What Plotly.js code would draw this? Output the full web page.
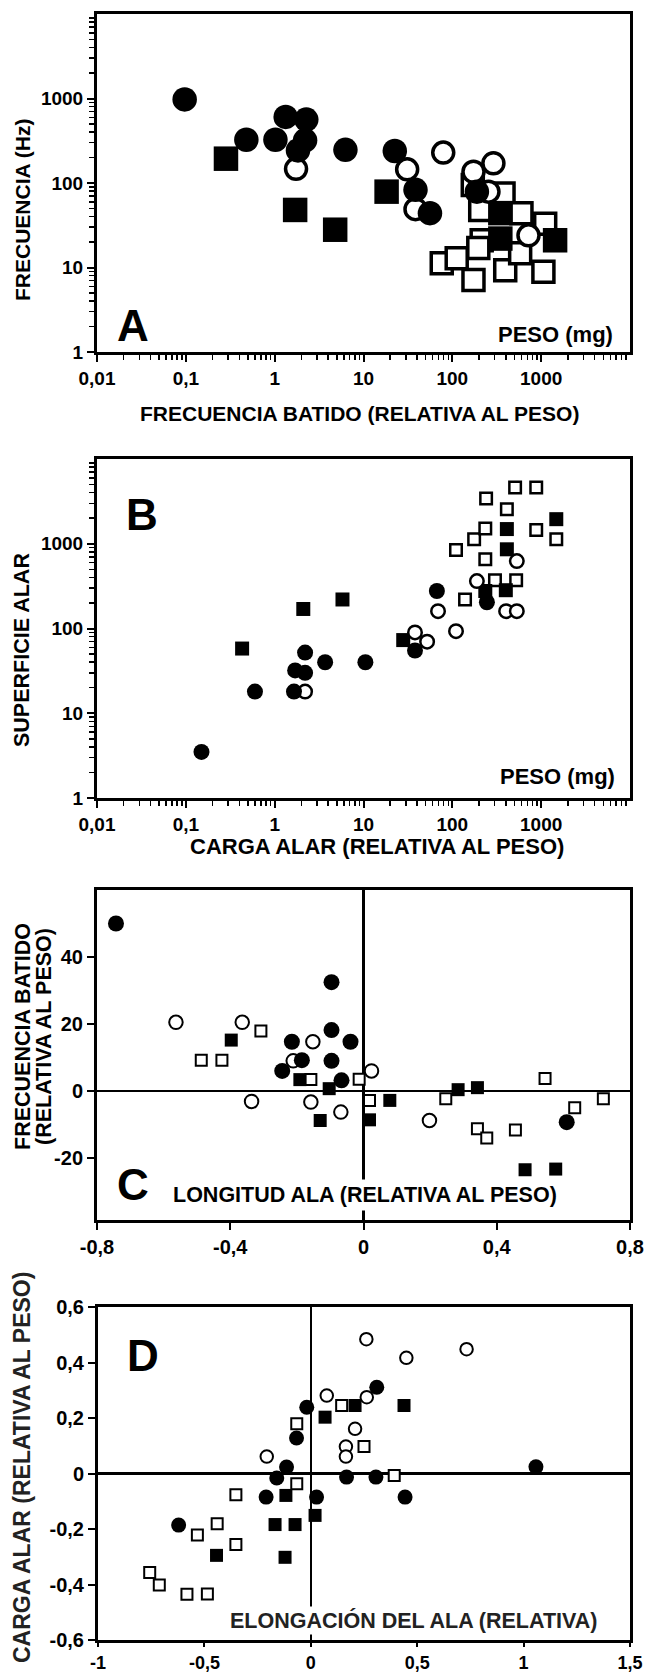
<!DOCTYPE html>
<html><head><meta charset="utf-8">
<script src="https://cdn.plot.ly/plotly-3.0.1.min.js"></script>
<style>html,body{margin:0;padding:0;background:#fff;}#chart{width:645px;height:1675px;}</style>
</head><body><div id="chart"></div>
<script>
// ---------- Panel A : FRECUENCIA (Hz) vs PESO (mg) ----------
const aFilledCircleX = [0.097, 0.48, 1.02, 1.33, 2.27, 2.2, 1.83, 6.26, 22.5, 38.5, 56, 189];
const aFilledCircleY = [975, 325, 325, 605, 563, 320, 243, 247, 239, 83, 44, 79];
const aFilledSquareX = [0.283, 1.70, 4.8, 18.2, 347, 347, 1435];
const aFilledSquareY = [194, 48, 28, 79, 44, 22, 21];
const aOpenCircleX = [1.74, 31, 38.5, 79, 173, 290, 255, 720];
const aOpenCircleY = [147, 145, 49, 229, 136, 171, 79, 24];
const aOpenSquareX = [170, 377, 206, 600, 1110, 214, 196, 76, 112, 173, 394, 1060, 580];
const aOpenSquareY = [95, 75, 48, 44, 33, 21, 17, 11.2, 12.9, 7.1, 9.3, 8.9, 14.7];

// ---------- Panel B : SUPERFICIE ALAR vs PESO (mg) ----------
const bFilledCircleX = [0.15, 0.6, 1.65, 1.7, 2.2, 2.2, 3.7, 10.5, 38, 67, 245];
const bFilledCircleY = [3.5, 18, 18, 32, 30, 52, 40, 40, 55, 277, 204];
const bFilledSquareX = [0.43, 2.1, 5.8, 28, 411, 411, 235, 400, 1480];
const bFilledSquareY = [58, 170, 220, 73, 1490, 860, 277, 283, 1950];
const bOpenCircleX = [2.2, 38, 52, 69, 110, 189, 403, 532, 532];
const bOpenCircleY = [18, 90, 70, 160, 93, 363, 160, 160, 625];
const bOpenSquareX = [110, 176, 235, 240, 235, 411, 509, 880, 880, 1480, 139, 302, 523];
const bOpenSquareY = [845, 1130, 1510, 3430, 656, 2560, 4600, 4600, 1450, 1130, 220, 370, 370];

// ---------- Panel C : FRECUENCIA BATIDO vs LONGITUD ALA ----------
const cFilledCircleX = [-0.743, -0.096, -0.096, -0.215, -0.039, -0.185, -0.096, -0.244, -0.066, 0.61];
const cFilledCircleY = [50, 32.5, 18.2, 14.7, 14.7, 9.2, 9, 6, 3.2, -9.3];
const cFilledSquareX = [-0.397, -0.191, -0.103, -0.13, 0.018, 0.079, 0.284, 0.342, 0.485, 0.577];
const cFilledSquareY = [15.2, 3.4, 0.7, -8.8, -8.6, -2.8, 0.4, 1.0, -23.5, -23.3];
const cOpenCircleX = [-0.563, -0.364, -0.152, -0.211, 0.024, -0.336, -0.158, -0.068, 0.198];
const cOpenCircleY = [20.5, 20.5, 14.7, 9, 6, -3.1, -3.3, -6.3, -8.8];
const cOpenSquareX = [-0.308, -0.487, -0.425, -0.158, -0.013, 0.018, 0.247, 0.342, 0.37, 0.456, 0.545, 0.634, 0.72];
const cOpenSquareY = [17.9, 9.2, 9.2, 3.4, 3.5, -2.8, -2.3, -11.3, -14, -11.6, 3.7, -5, -2.3];

// ---------- Panel D : CARGA ALAR vs ELONGACIÓN DEL ALA ----------
const dFilledCircleX = [0.31, -0.019, -0.067, -0.114, -0.16, 0.168, 0.306, 1.058, -0.21, 0.027, 0.443, -0.621];
const dFilledCircleY = [0.311, 0.239, 0.128, 0.023, -0.016, -0.013, -0.013, 0.024, -0.085, -0.085, -0.085, -0.186];
const dFilledSquareX = [0.067, 0.208, 0.438, -0.117, 0.02, -0.168, -0.074, -0.443, -0.121];
const dFilledSquareY = [0.203, 0.245, 0.245, -0.079, -0.151, -0.184, -0.184, -0.295, -0.302];
const dOpenCircleX = [0.261, 0.449, 0.732, 0.075, 0.263, 0.208, 0.165, 0.165, -0.207];
const dOpenCircleY = [0.484, 0.417, 0.448, 0.281, 0.275, 0.161, 0.097, 0.061, 0.061];
const dOpenSquareX = [-0.066, 0.145, 0.25, -0.066, 0.392, -0.352, -0.44, -0.533, -0.352, -0.757, -0.712, -0.582, -0.486];
const dOpenSquareY = [0.179, 0.245, 0.097, -0.037, -0.007, -0.077, -0.181, -0.222, -0.256, -0.357, -0.402, -0.435, -0.434];

// ---------- tick labels ----------
const logTickVals = [0.01, 0.1, 1, 10, 100, 1000];
const logTickText = ['0,01', '0,1', '1', '10', '100', '1000'];
const logYTickVals = [1, 10, 100, 1000];
const logYTickText = ['1', '10', '100', '1000'];
const cXTickVals = [-0.8, -0.4, 0, 0.4, 0.8];
const cXTickText = ['-0,8', '-0,4', '0', '0,4', '0,8'];
const cYTickVals = [-20, 0, 20, 40];
const cYTickText = ['-20', '0', '20', '40'];
const dXTickVals = [-1, -0.5, 0, 0.5, 1, 1.5];
const dXTickText = ['-1', '-0,5', '0', '0,5', '1', '1,5'];
const dYTickVals = [-0.6, -0.4, -0.2, 0, 0.2, 0.4, 0.6];
const dYTickText = ['-0,6', '-0,4', '-0,2', '0', '0,2', '0,4', '0,6'];

// ---------- layout helpers ----------
const W = 645, H = 1675;
const FONT = 'Liberation Sans, Arial, Helvetica, sans-serif';
const fx = p => p / W;
const fy = p => 1 - p / H;

const minorLog = [];
for (let e = -2; e <= 4; e++) for (let m = 2; m <= 9; m++) minorLog.push(m * Math.pow(10, e));

function mk(x, y, xa, ya, symbol, filled, size, lw) {
  return {
    type: 'scatter', mode: 'markers', x: x, y: y, xaxis: xa, yaxis: ya,
    hoverinfo: 'skip', showlegend: false, cliponaxis: true,
    marker: filled
      ? {symbol: symbol, size: size, color: 'black', line: {width: 0}}
      : {symbol: symbol, size: size, color: 'white', line: {color: 'black', width: lw}}
  };
}

const traces = [
  mk(aOpenSquareX, aOpenSquareY, 'x', 'y', 'square', false, 21, 3.5),
  mk(aFilledSquareX, aFilledSquareY, 'x', 'y', 'square', true, 24.5),
  mk(aOpenCircleX, aOpenCircleY, 'x', 'y', 'circle', false, 21, 3.5),
  mk(aFilledCircleX, aFilledCircleY, 'x', 'y', 'circle', true, 24.5),

  mk(bOpenSquareX, bOpenSquareY, 'x2', 'y2', 'square', false, 11.5, 2.5),
  mk(bFilledSquareX, bFilledSquareY, 'x2', 'y2', 'square', true, 14),
  mk(bOpenCircleX, bOpenCircleY, 'x2', 'y2', 'circle', false, 13.5, 2.5),
  mk(bFilledCircleX, bFilledCircleY, 'x2', 'y2', 'circle', true, 16),

  mk(cOpenSquareX, cOpenSquareY, 'x3', 'y3', 'square', false, 11, 2),
  mk(cFilledSquareX, cFilledSquareY, 'x3', 'y3', 'square', true, 13),
  mk(cOpenCircleX, cOpenCircleY, 'x3', 'y3', 'circle', false, 13.5, 2),
  mk(cFilledCircleX, cFilledCircleY, 'x3', 'y3', 'circle', true, 16),

  mk(dOpenSquareX, dOpenSquareY, 'x4', 'y4', 'square', false, 11, 2),
  mk(dFilledSquareX, dFilledSquareY, 'x4', 'y4', 'square', true, 13),
  mk(dOpenCircleX, dOpenCircleY, 'x4', 'y4', 'circle', false, 12.5, 2),
  mk(dFilledCircleX, dFilledCircleY, 'x4', 'y4', 'circle', true, 15)
];

const tickFont = {family: FONT, size: 19, color: 'black', weight: 700};

function baseAxis(extra) {
  return Object.assign({
    showline: true, linewidth: 3, linecolor: 'black', mirror: true,
    ticks: 'outside', ticklen: 7, tickwidth: 2, tickcolor: 'black',
    showgrid: false, zeroline: false, tickmode: 'array', fixedrange: true,
    tickfont: tickFont
  }, extra);
}

function logX(domain, anchor) {
  return baseAxis({type: 'log', range: [-2, 4], domain: domain, anchor: anchor,
    tickvals: logTickVals, ticktext: logTickText,
    minor: {ticks: 'outside', ticklen: 5, tickwidth: 1.5, tickcolor: 'black', tickmode: 'array', tickvals: minorLog, showgrid: false}});
}
function logY(domain, anchor) {
  return baseAxis({type: 'log', range: [0, 4], domain: domain, anchor: anchor,
    tickvals: logYTickVals, ticktext: logYTickText,
    minor: {ticks: 'outside', ticklen: 5, tickwidth: 1.5, tickcolor: 'black', tickmode: 'array', tickvals: minorLog, showgrid: false}});
}

const xDom = [fx(97), fx(630)];

function ann(text, x, y, size, extra) {
  return Object.assign({
    text: text, xref: 'paper', yref: 'paper', x: fx(x), y: fy(y),
    xanchor: 'center', yanchor: 'middle', showarrow: false,
    font: {family: FONT, size: size, color: 'black', weight: 700}
  }, extra || {});
}

const layout = {
  width: W, height: H, margin: {l: 0, r: 0, t: 0, b: 0},
  paper_bgcolor: 'white', plot_bgcolor: 'white', showlegend: false,
  xaxis: logX(xDom, 'y'),
  yaxis: logY([fy(352), fy(14)], 'x'),
  xaxis2: logX(xDom, 'y2'),
  yaxis2: logY([fy(798), fy(459)], 'x2'),
  xaxis3: baseAxis({range: [-0.8, 0.8], domain: xDom, anchor: 'y3', tickvals: cXTickVals, ticktext: cXTickText,
    zeroline: true, zerolinewidth: 2.5, zerolinecolor: 'black', tickfont: Object.assign({}, tickFont, {size: 20})}),
  yaxis3: baseAxis({range: [-38.5, 60], domain: [fy(1220), fy(890)], anchor: 'x3', tickvals: cYTickVals, ticktext: cYTickText,
    zeroline: true, zerolinewidth: 2.5, zerolinecolor: 'black', tickfont: Object.assign({}, tickFont, {size: 20})}),
  xaxis4: baseAxis({range: [-1, 1.5], domain: [fx(98), fx(630)], anchor: 'y4', tickvals: dXTickVals, ticktext: dXTickText,
    ticklen: 4, zeroline: true, zerolinewidth: 2.5, zerolinecolor: 'black', tickfont: Object.assign({}, tickFont, {size: 18})}),
  yaxis4: baseAxis({range: [-0.6, 0.6], domain: [fy(1640), fy(1307)], anchor: 'x4', tickvals: dYTickVals, ticktext: dYTickText,
    zeroline: true, zerolinewidth: 2.5, zerolinecolor: 'black', tickfont: Object.assign({}, tickFont, {size: 20})}),
  annotations: [
    // Panel A
    ann('FRECUENCIA (Hz)', 23, 210, 21, {textangle: -90}),
    ann('FRECUENCIA BATIDO (RELATIVA AL PESO)', 359, 413, 21),
    ann('A', 133, 325, 44),
    ann('PESO (mg)', 615, 335, 22, {xanchor: 'right'}),
    // Panel B
    ann('SUPERFICIE ALAR', 22, 650, 21.5, {textangle: -90}),
    ann('CARGA ALAR (RELATIVA AL PESO)', 377, 847, 22),
    ann('B', 142, 515, 44),
    ann('PESO (mg)', 617, 776, 22, {xanchor: 'right'}),
    // Panel C
    ann('FRECUENCIA BATIDO', 23, 1037, 21.5, {textangle: -90}),
    ann('(RELATIVA AL PESO)', 44, 1037, 21.5, {textangle: -90}),
    ann('C', 133, 1184, 44),
    ann('LONGITUD ALA (RELATIVA AL PESO)', 365, 1195, 21.5, {bgcolor: 'white', borderpad: 3}),
    // Panel D
    ann('CARGA ALAR (RELATIVA AL PESO)', 22, 1468, 23, {textangle: -90, font: {family: FONT, size: 23, color: '#222', weight: 700}}),
    ann('D', 143, 1355, 44),
    ann('ELONGACIÓN DEL ALA (RELATIVA)', 413, 1620, 21.5, {bgcolor: 'white', font: {family: FONT, size: 21.5, color: '#222', weight: 700}})
  ]
};

Plotly.newPlot('chart', traces, layout, {staticPlot: true, displayModeBar: false});
</script></body></html>
